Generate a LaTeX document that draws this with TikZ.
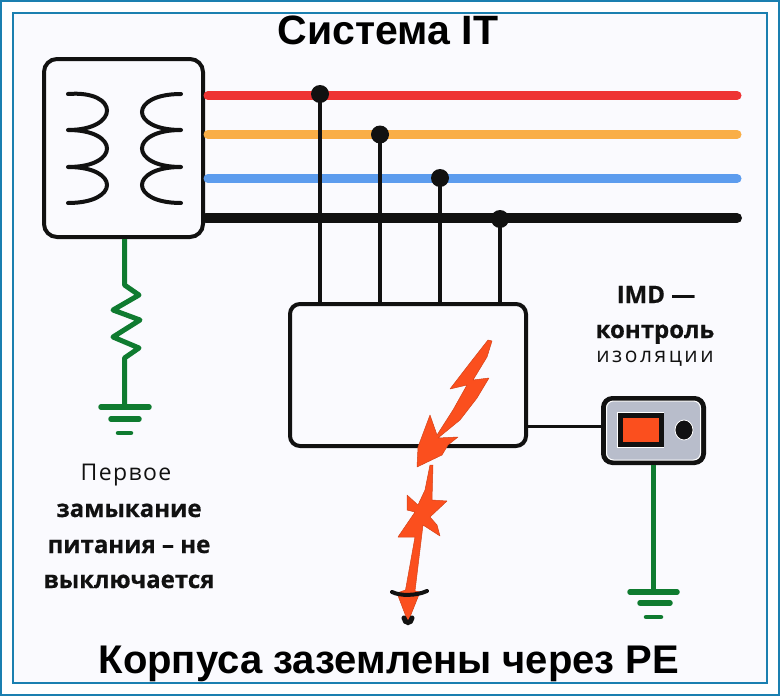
\documentclass[tikz,border=0pt]{standalone}
\usepackage{fontspec}
\usetikzlibrary{shapes.geometric}
\setmainfont{Liberation Sans}
\newfontfamily\lab[BoldFeatures={FakeBold=0.6}]{Open Sans}
\newfontfamily\labsp[LetterSpace=12]{Open Sans}
\newfontfamily\labsq[LetterSpace=6]{Open Sans}
\definecolor{framec}{HTML}{1A7FB0}
\definecolor{bgc}{HTML}{FAFAFE}
\definecolor{redw}{HTML}{EE3333}
\definecolor{orangew}{HTML}{F9AE47}
\definecolor{bluew}{HTML}{5C9CEE}
\definecolor{blackw}{HTML}{111111}
\definecolor{greenw}{HTML}{0F7B30}
\definecolor{boltc}{HTML}{FB4F1E}
\definecolor{imdc}{HTML}{B8BDCB}
\tikzset{
 x=1pt,y=-1pt,
 boxn/.style={draw=blackw,line width=4pt,rounded corners=13pt,inner sep=0pt},
 bus/.style={line width=9pt,line cap=round},
 tap/.style={draw=blackw,line width=3.8pt},
 dotn/.style={circle,fill=blackw,minimum size=18pt,inner sep=0pt},
 coil/.style={draw=blackw,line width=4pt,line cap=round},
 gnd/.style={draw=greenw,line width=5.5pt,line cap=round},
 gwire/.style={draw=greenw,line width=5pt,line join=round},
 titlet/.style={anchor=base,font=\bfseries\fontsize{41}{44}\selectfont,inner sep=0pt},
 labb/.style={anchor=base,font=\lab\bfseries\fontsize{24}{26}\selectfont,inner sep=0pt,text=blackw},
 boltp/.style={fill=boltc,draw=boltc!85!black,line width=0.5pt,line join=round},
}
\begin{document}
\begin{tikzpicture}
\useasboundingbox (0,0) rectangle (780,696);
\fill[white] (0,0) rectangle (780,696);
\draw[framec,line width=2.2pt] (1,1) rectangle (779,695);
\draw[framec,line width=2.2pt,fill=bgc] (13,13) rectangle (767,683);
% titles
\node[titlet] (title) at (388,44) {Система IT};
\node[titlet,font=\bfseries\fontsize{40}{44}\selectfont] (bottom) at (389,673) {Корпуса заземлены через PE};
% buses
\node[boxn,minimum width=159pt,minimum height=178pt,fill=bgc] (trafo) at (123.5,148) {};
\coordinate (r0) at (208,95.5); \coordinate (r1) at (737,95.5);
\coordinate (o0) at (208,134.5); \coordinate (o1) at (737,134.5);
\coordinate (b0) at (208,178.5); \coordinate (b1) at (737,178.5);
\coordinate (k0) at (206,218); \coordinate (k1) at (737,218);
\draw[bus,redw] (r0) -- (r1);
\draw[bus,orangew] (o0) -- (o1);
\draw[bus,bluew] (b0) -- (b1);
\draw[bus,blackw,line width=10pt] (k0) -- (k1);
% load box
\node[boxn,rounded corners=10pt,minimum width=236pt,minimum height=142pt] (load) at (408,375) {};
\node[dotn] (d1) at (320,94) {};
\node[dotn] (d2) at (380,134.5) {};
\node[dotn] (d3) at (440,178) {};
\node[dotn] (d4) at (500,219) {};
\draw[tap] (d1.center) -- (d1.center |- load.north);
\draw[tap] (d2.center) -- (d2.center |- load.north);
\draw[tap] (d3.center) -- (d3.center |- load.north);
\draw[tap] (d4.center) -- (d4.center |- load.north);
% coils
\draw[coil] (68,94) .. controls (120,90) and (120,130) .. (68,130)
 (68,130) .. controls (120,130) and (120,167) .. (68,167)
 (68,167) .. controls (120,167) and (120,203) .. (68,203);
\draw[coil] (181,94) .. controls (129,94) and (129,130) .. (181,130)
 (181,130) .. controls (129,130) and (129,167) .. (181,167)
 (181,167) .. controls (129,167) and (129,203) .. (181,203);
% left earth
\coordinate (g1) at (124.5,407);
\draw[gwire] (trafo.south -| g1) -- (124.5,285) -- (139,295) -- (113,310) -- (140,320) -- (113,337) -- (139,348) -- (124.5,358) -- (g1);
\draw[gnd] (101,407) -- (149,407);
\draw[gnd] (111,419) -- (139,419);
\draw[gnd,line width=4.5pt] (118,433) -- (131,433);
\node[anchor=base,inner sep=0pt,text=blackw,font=\labsq\fontsize{23}{26}\selectfont] (t1) at (126,480) {Первое};
\node[labb] (t2) at (129,517) {замыкание};
\node[labb] (t3) at (129,553) {питания – не};
\node[labb] (t4) at (129,588) {выключается};
% IMD
\node[boxn,rounded corners=9pt,line width=5pt,fill=imdc,minimum width=100pt,minimum height=64pt] (imd) at (653.5,430.5) {};
\draw[white,line width=1pt,rounded corners=7pt] (606.5,401) rectangle (700.5,460);
\draw[draw=blackw,line width=3pt] (load.east |- 0,426) -- (imd.west |- 0,426);
\fill[white] (617,412) rectangle (664,448);
\node[draw=blackw,line width=5pt,fill=boltc,minimum width=41pt,minimum height=29pt,inner sep=0pt] (lamp) at (640.5,430) {};
\node[ellipse,fill=blackw,draw=white,line width=0.8pt,minimum width=18pt,minimum height=20pt,inner sep=0pt] (knob) at (684,430) {};
\coordinate (g2) at (653.5,592);
\draw[gwire] (imd.south -| g2) -- (g2);
\draw[gnd] (630,592) -- (677,592);
\draw[gnd] (640,603) -- (670,603);
\draw[gnd,line width=4.5pt] (646,617) -- (661,617);
\node[labb] (t5) at (656,303) {IMD —};
\node[labb] (t6) at (655,338) {контроль};
\node[anchor=base,inner sep=0pt,text=blackw,font=\labsp\fontsize{21}{24}\selectfont] (t7) at (655,362) {изоляции};
% bolt
\filldraw[boltp] (488,340) -- (492,341) -- (487,357) -- (473,380) -- (489,378) -- (477,398) -- (460,420) -- (438,438) -- (458,437) -- (448,445) -- (442,455) -- (417,467) -- (418,447) -- (430,415) -- (437,435) -- (453,410) -- (467,385) -- (450,389) -- (470,363) -- cycle;
\filldraw[boltp] (430,465) -- (433,465) -- (432,500) -- (447,501) -- (430,517) -- (437,525) -- (440,536) -- (423,525) -- (415,591) -- (420,592) -- (408,622) -- (397,593) -- (405.5,590) -- (415,537) -- (398,537) -- (415,512) -- (407,510) -- (407,495) -- (418,505) -- (425,490) -- cycle;
\draw[blackw,line width=4pt,line cap=round] (392,592) .. controls (400,596) and (416,596) .. (427,591);
\draw[blackw,line width=5pt,line cap=round] (404,618) .. controls (405,624) and (411,624) .. (412,618);
\end{tikzpicture}
\end{document}
